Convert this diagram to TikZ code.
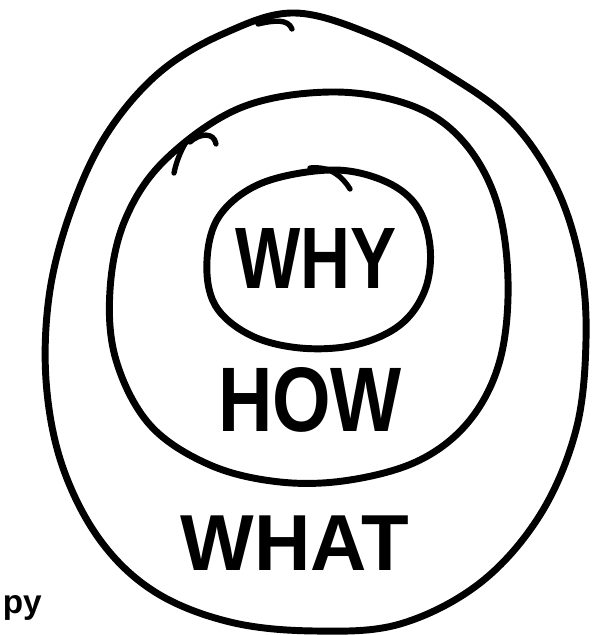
\documentclass[tikz,border=0pt]{standalone}
\usepackage{fontspec}
\usepackage{graphicx}
\setmainfont{Liberation Sans}
\begin{document}
\begin{tikzpicture}[x=0.75pt,y=-0.75pt,
  ink/.style={line width=5.2pt,line cap=round,line join=round,black},
  word/.style={inner sep=0pt,font=\bfseries}]
\useasboundingbox (0,0) rectangle (593,635);
% outer circle
\draw[ink] plot[smooth cycle,tension=0.6] coordinates {
 (295,13) (375,36) (450,76) (512,122) (556,187) (580,262) (586,340) (576,430)
 (540,515) (480,583) (400,624) (315,631) (230,622) (155,592) (100,540)
 (62,465) (46,380) (50,290) (73,205) (108,132) (160,72) (225,33)};
% middle circle
\draw[ink] plot[smooth cycle,tension=0.6] coordinates {
 (330,92) (410,105) (462,140) (496,200) (508,280) (500,360) (470,420) (420,460)
 (350,480) (280,482) (210,465) (150,425) (116,360) (110,290) (125,220)
 (165,160) (240,108)};
% inner circle
\draw[ink] plot[smooth cycle,tension=0.6] coordinates {
 (330,170) (382,180) (416,205) (430,246) (425,290) (400,325) (355,345)
 (300,348) (250,335) (215,305) (207,260) (220,215) (262,183)};
% overlap strokes of the pen
\coordinate (h1a) at (258,24); \coordinate (h1b) at (292,29);
\draw[ink,line width=4pt] (h1a) .. controls (275,20) and (288,19) .. (h1b);
\coordinate (h2a) at (190,142); \coordinate (h2b) at (216,144);
\draw[ink,line width=4pt] (h2a) .. controls (200,133) and (214,132) .. (h2b);
\coordinate (h2c) at (186,142); \coordinate (h2d) at (174,173);
\draw[ink,line width=4pt] (h2c) .. controls (180,152) and (176,163) .. (h2d);
\coordinate (h3a) at (310,168); \coordinate (h3b) at (350,189);
\draw[ink,line width=4pt] (h3a) .. controls (330,166) and (342,176) .. (h3b);
% words
\node[word] (why) at (316,258) {\resizebox{121pt}{45pt}{WHY}};
\node[word] (how) at (310,400) {\resizebox{138pt}{48pt}{HOW}};
\node[word] (what) at (295,543) {\resizebox{171pt}{41pt}{WHAT}};
\node[word,anchor=base east,font=\bfseries\fontsize{25pt}{25pt}\selectfont] (py) at (42,613) {py};
\end{tikzpicture}
\end{document}
